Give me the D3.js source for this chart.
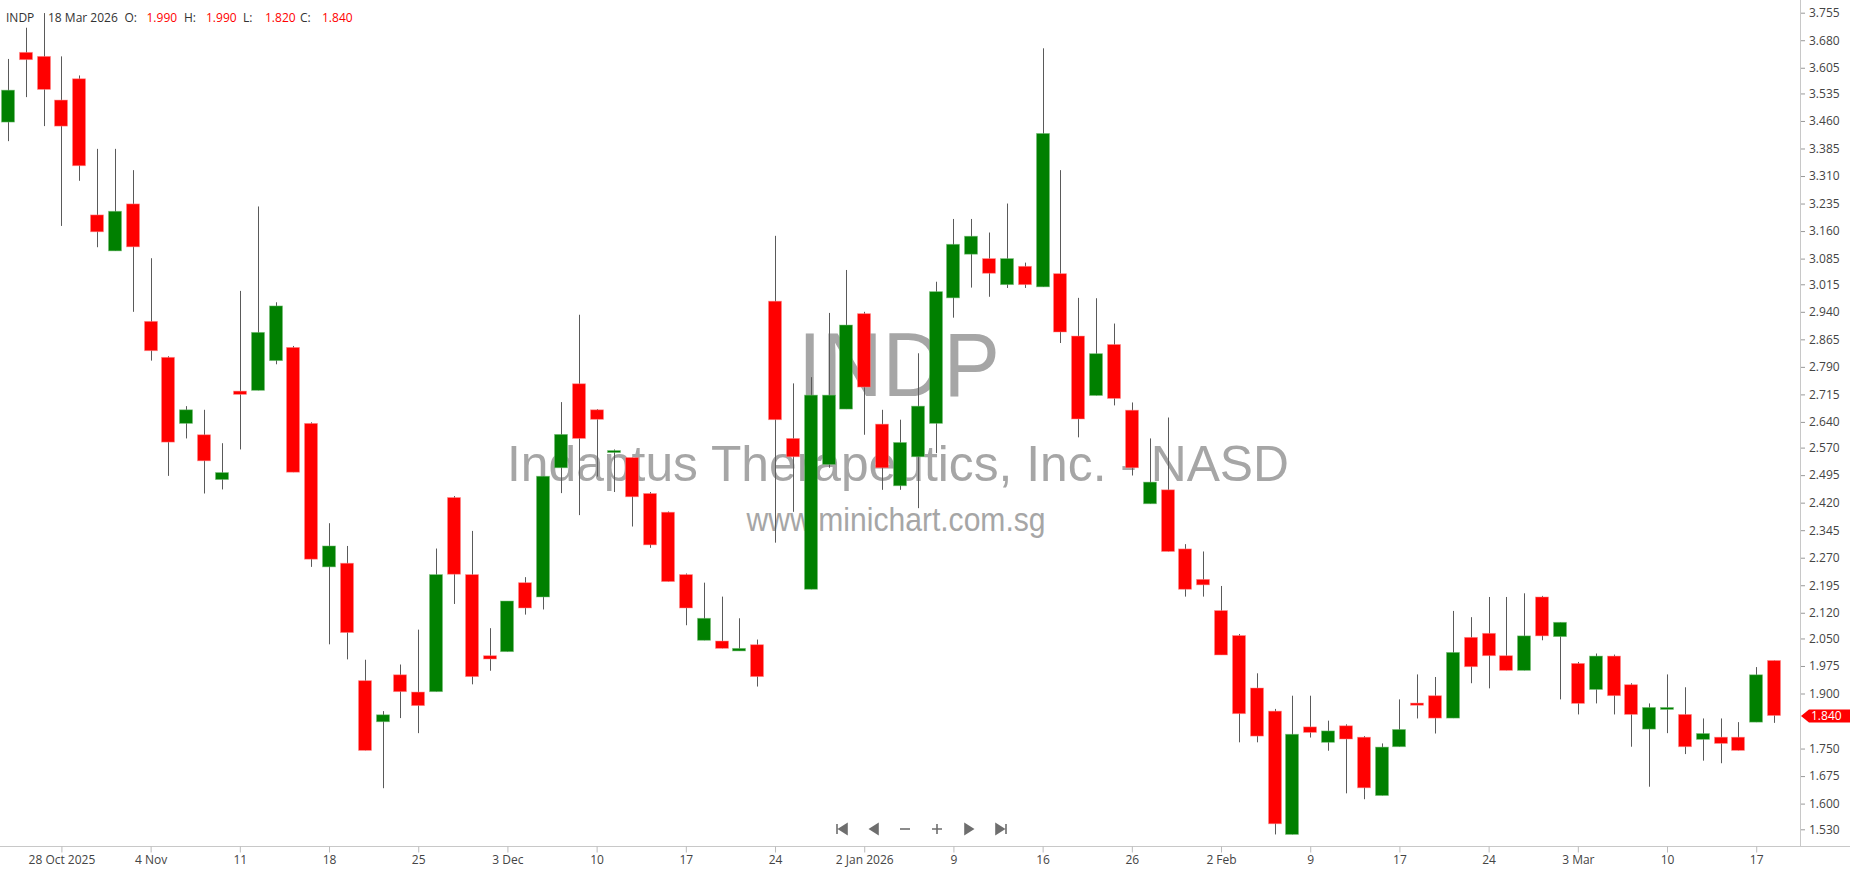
<!DOCTYPE html>
<html><head><meta charset="utf-8">
<script src="https://cdn.jsdelivr.net/npm/d3@7"></script>
<style>html,body{margin:0;padding:0;background:#fff;overflow:hidden}</style>
</head><body>
<svg id="c" width="1850" height="874"></svg>
<script>
const dates = ["2025-10-23","2025-10-24","2025-10-27","2025-10-28","2025-10-29","2025-10-30","2025-10-31",
"2025-11-03","2025-11-04","2025-11-05","2025-11-06","2025-11-07","2025-11-10","2025-11-11","2025-11-12","2025-11-13","2025-11-14",
"2025-11-17","2025-11-18","2025-11-19","2025-11-20","2025-11-21","2025-11-24","2025-11-25","2025-11-26","2025-11-28",
"2025-12-01","2025-12-02","2025-12-03","2025-12-04","2025-12-05","2025-12-08","2025-12-09","2025-12-10","2025-12-11","2025-12-12",
"2025-12-15","2025-12-16","2025-12-17","2025-12-18","2025-12-19","2025-12-22","2025-12-23","2025-12-24","2025-12-26",
"2025-12-29","2025-12-30","2025-12-31","2026-01-02","2026-01-05","2026-01-06","2026-01-07","2026-01-08","2026-01-09",
"2026-01-12","2026-01-13","2026-01-14","2026-01-15","2026-01-16","2026-01-20","2026-01-21","2026-01-22","2026-01-23",
"2026-01-26","2026-01-27","2026-01-28","2026-01-29","2026-01-30","2026-02-02","2026-02-03","2026-02-04","2026-02-05","2026-02-06",
"2026-02-09","2026-02-10","2026-02-11","2026-02-12","2026-02-13","2026-02-17","2026-02-18","2026-02-19","2026-02-20",
"2026-02-23","2026-02-24","2026-02-25","2026-02-26","2026-02-27","2026-03-02","2026-03-03","2026-03-04","2026-03-05","2026-03-06",
"2026-03-09","2026-03-10","2026-03-11","2026-03-12","2026-03-13","2026-03-16","2026-03-17","2026-03-18"];

const open = [3.457,3.647,3.636,3.517,3.575,3.204,3.106,3.234,2.914,2.816,2.636,2.605,2.483,2.724,2.726,2.807,2.843,
2.636,2.245,2.255,1.935,1.823,1.951,1.904,1.905,2.434,2.224,2.003,2.014,2.202,2.163,2.515,2.744,2.673,2.558,2.543,
2.445,2.394,2.224,2.045,2.043,2.016,2.033,2.969,2.595,2.184,2.524,2.675,2.935,2.634,2.466,2.545,2.636,2.978,
3.097,3.085,3.014,3.064,3.008,3.044,2.874,2.712,2.851,2.672,2.417,2.455,2.294,2.211,2.126,2.058,1.915,1.852,1.516,
1.809,1.767,1.812,1.781,1.622,1.755,1.874,1.894,1.833,2.053,2.064,2.003,1.963,2.163,2.055,1.982,1.911,2.002,1.924,
1.803,1.859,1.843,1.775,1.781,1.781,1.822,1.990];
const high = [3.629,3.714,3.754,3.636,3.584,3.384,3.384,3.326,3.086,2.819,2.683,2.673,2.582,2.997,3.227,2.966,2.847,
2.639,2.364,2.302,1.992,1.852,1.979,2.074,2.295,2.438,2.343,2.078,2.152,2.217,2.492,2.694,2.932,2.675,2.565,2.543,
2.449,2.396,2.227,2.202,2.164,2.105,2.047,3.147,2.745,2.762,2.937,3.054,2.940,2.673,2.646,2.827,3.022,3.193,
3.193,3.156,3.235,3.074,3.658,3.326,2.978,2.977,2.908,2.693,2.595,2.652,2.307,2.287,2.193,2.062,1.955,1.858,1.894,
1.894,1.826,1.816,1.784,1.764,1.884,1.952,1.945,2.125,2.108,2.163,2.163,2.173,2.166,2.094,1.986,2.009,2.006,1.928,
1.873,1.952,1.917,1.832,1.832,1.822,1.972,1.990];
const low = [3.405,3.525,3.446,3.174,3.297,3.116,3.106,2.940,2.807,2.493,2.595,2.445,2.456,2.565,2.726,2.797,2.503,
2.245,2.034,1.993,1.745,1.642,1.833,1.792,1.905,2.144,1.925,1.962,2.014,2.115,2.129,2.446,2.386,2.491,2.449,2.355,
2.297,2.205,2.086,2.045,2.023,2.016,1.919,2.311,2.395,2.184,2.515,2.675,2.605,2.455,2.455,2.405,2.555,2.924,
3.006,2.981,3.005,3.005,3.008,2.855,2.598,2.712,2.685,2.494,2.417,2.287,2.164,2.164,2.005,1.767,1.767,1.516,1.516,
1.780,1.744,1.628,1.612,1.622,1.755,1.832,1.791,1.833,1.928,1.914,1.963,1.963,2.045,1.884,1.843,1.873,1.843,1.755,
1.646,1.792,1.735,1.717,1.710,1.745,1.822,1.820];
const close = [3.544,3.627,3.546,3.446,3.338,3.158,3.214,3.117,2.834,2.585,2.673,2.534,2.502,2.715,2.884,2.956,2.503,
2.266,2.302,2.066,1.745,1.842,1.905,1.867,2.224,2.225,1.946,1.994,2.152,2.133,2.492,2.606,2.595,2.647,2.562,2.436,
2.305,2.205,2.133,2.105,2.023,2.023,1.946,2.646,2.545,2.713,2.713,2.904,2.735,2.515,2.584,2.683,2.995,3.124,
3.146,3.045,3.085,3.014,3.426,2.885,2.648,2.826,2.704,2.515,2.476,2.287,2.184,2.196,2.005,1.845,1.784,1.545,1.789,
1.794,1.798,1.776,1.643,1.754,1.802,1.868,1.833,2.012,1.973,2.003,1.963,2.057,2.057,2.094,1.873,2.002,1.894,1.843,
1.862,1.862,1.755,1.791,1.764,1.745,1.951,1.840];

const xTickDates = ["2025-10-28","2025-11-04","2025-11-11","2025-11-18","2025-11-25","2025-12-03","2025-12-10","2025-12-17",
"2025-12-24","2026-01-02","2026-01-09","2026-01-16","2026-01-26","2026-02-02","2026-02-09","2026-02-17","2026-02-24",
"2026-03-03","2026-03-10","2026-03-17"];
const xTickLabels = ["28 Oct 2025","4 Nov","11","18","25","3 Dec","10","17","24","2 Jan 2026","9","16","26","2 Feb","9","17","24","3 Mar","10","17"];
const yTicks = [3.755,3.680,3.605,3.535,3.460,3.385,3.310,3.235,3.160,3.085,3.015,2.940,2.865,2.790,2.715,2.640,2.570,
2.495,2.420,2.345,2.270,2.195,2.120,2.050,1.975,1.900,1.750,1.675,1.600,1.530];

const symbol = "INDP";
const company = "Indaptus Therapeutics, Inc. - NASD";
const site = "www.minichart.com.sg";
const lastDateLabel = "18 Mar 2026";

const FONT = "'Open Sans', 'Noto Sans', sans-serif";
const UP = "#008000", DOWN = "#ff0000";

const svg = d3.select("#c");
const W = 1850, H = 874, axisX = 1800, axisY = 846.5;
const step = 17.84, firstCenter = 7.9;

const x = d3.scaleBand().domain(dates)
  .range([firstCenter - step/2, firstCenter - step/2 + step*dates.length]).padding(0);
const y = d3.scaleLinear().domain([1.530, 3.755]).range([829.3, 12.7]);
const cx = d => Math.round(x(d) + x.bandwidth()/2) + 0.5;

const data = dates.map((d,i)=>({d, o:open[i], h:high[i], l:low[i], c:close[i]}));

// watermark
const wm = svg.append("g").attr("fill","#a6a6a6").attr("font-family","'Liberation Sans', Arial, sans-serif").attr("text-anchor","middle");
wm.append("text").attr("x",899).attr("y",396).attr("font-size",90).attr("textLength",202).attr("lengthAdjust","spacingAndGlyphs").text(symbol);
wm.append("text").attr("x",898).attr("y",481).attr("font-size",50).attr("textLength",782).attr("lengthAdjust","spacingAndGlyphs").text(company);
wm.append("text").attr("x",896).attr("y",531).attr("font-size",33).attr("textLength",299).attr("lengthAdjust","spacingAndGlyphs").text(site);

// axes lines
svg.append("line").attr("x1",0).attr("x2",W).attr("y1",axisY).attr("y2",axisY).attr("stroke","#c8c8c8");
svg.append("line").attr("x1",axisX+0.5).attr("x2",axisX+0.5).attr("y1",0).attr("y2",axisY).attr("stroke","#c8c8c8");

// candles
const g = svg.append("g");
g.selectAll("line.w").data(data).join("line").attr("class","w")
  .attr("x1",d=>cx(d.d)).attr("x2",d=>cx(d.d))
  .attr("y1",d=>y(d.h)).attr("y2",d=>y(d.l))
  .attr("stroke","#5a5a5a").attr("stroke-width",1);
const bw = 13;
g.selectAll("rect.b").data(data).join("rect").attr("class","b")
  .attr("x",d=>cx(d.d)-0.5-bw/2).attr("width",bw)
  .attr("y",d=>y(Math.max(d.o,d.c)))
  .attr("height",d=>Math.max(2, y(Math.min(d.o,d.c))-y(Math.max(d.o,d.c))))
  .attr("fill",d=>d.c>=d.o?UP:DOWN)
  .attr("stroke",d=>d.c>=d.o?"rgba(120,190,120,0.6)":"rgba(255,140,140,0.6)").attr("stroke-width",0.8);

// y axis
const yAxis = d3.axisRight(y).tickValues(yTicks).tickFormat(d3.format(".3f")).tickSize(4).tickPadding(4);
const ya = svg.append("g").attr("transform",`translate(${axisX+1},0)`).call(yAxis);
ya.select(".domain").remove();
ya.selectAll(".tick line").attr("stroke","#999");
ya.selectAll(".tick text").attr("fill","#444").attr("font-family",FONT).attr("font-size",12);

// x axis
const xPos = d3.scaleOrdinal().domain(xTickDates).range(xTickLabels);
const xAxis = d3.axisBottom(d3.scalePoint().domain(dates).range([x(dates[0])+x.bandwidth()/2, x(dates[dates.length-1])+x.bandwidth()/2]))
  .tickValues(xTickDates).tickFormat(d=>xPos(d)).tickSize(6).tickPadding(3);
const xa = svg.append("g").attr("transform",`translate(0,${axisY})`).call(xAxis);
xa.select(".domain").remove();
xa.selectAll(".tick line").attr("stroke","#bbb");
xa.selectAll(".tick text").attr("fill","#444").attr("font-family",FONT).attr("font-size",12);

// last price label
const last = data[data.length-1];
const ly = Math.round(y(last.c));
svg.append("path").attr("d",`M${axisX+1},${ly} L${axisX+9},${ly-6.5} L${W},${ly-6.5} L${W},${ly+6.5} L${axisX+9},${ly+6.5} Z`).attr("fill",DOWN);
svg.append("text").attr("x",axisX+11).attr("y",ly+4.3).attr("fill","#fff").attr("font-family",FONT).attr("font-size",12).text(d3.format(".3f")(last.c));

// header
const hdr = svg.append("text").attr("x",6).attr("y",22).attr("font-family",FONT).attr("font-size",12).attr("fill","#333");
hdr.append("tspan").text(symbol);
hdr.append("tspan").attr("x",48).text(lastDateLabel);
const parts = [["O:",124.5,last.o],["H:",184,last.h],["L:",243,last.l],["C:",300,last.c]];
parts.forEach(([lab,px,v])=>{
  hdr.append("tspan").attr("x",px).attr("fill","#333").text(lab);
  hdr.append("tspan").attr("x",px+22).attr("fill",last.c>=last.o?UP:DOWN).text(d3.format(".3f")(v));
});

// navigation controls
const nav = svg.append("g").attr("fill","#6e6e6e").attr("stroke","#6e6e6e");
const ny = 829;
const navItems = [
  {x:842, d:"M-5,-5 L-5,5 M5,-5 L-3,0 L5,5 Z"},
  {x:874, d:"M4,-5 L-4,0 L4,5 Z"},
  {x:905, d:"M-5,0 L5,0"},
  {x:937, d:"M-5,0 L5,0 M0,-5 L0,5"},
  {x:969, d:"M-4,-5 L4,0 L-4,5 Z"},
  {x:1001, d:"M-5,-5 L3,0 L-5,5 Z M5,-5 L5,5"}
];
nav.selectAll("path").data(navItems).join("path")
  .attr("transform",d=>`translate(${d.x},${ny})`).attr("d",d=>d.d).attr("stroke-width",1.6);
</script>
</body></html>
